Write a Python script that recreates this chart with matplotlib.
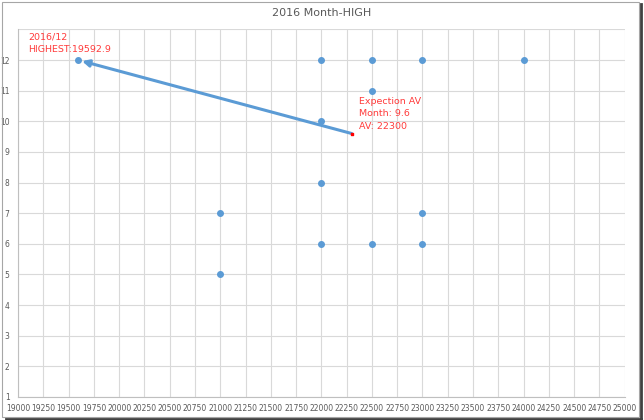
import matplotlib
matplotlib.use("Agg")
import matplotlib.pyplot as plt
from matplotlib.patches import Rectangle

price = [19592.9, 22000, 22500, 23000, 24000, 22500, 22000, 22000, 21000, 23000, 22000, 22500, 23000, 21000]
month = [12, 12, 12, 12, 12, 11, 10, 8, 7, 7, 6, 6, 6, 5]
exp_price = 22300
exp_month = 9.6
xticks = list(range(19000, 25001, 250))
yticks = list(range(1, 13))

fig = plt.figure(figsize=(6.44, 4.2), dpi=100)
ax = fig.add_axes([0.028, 0.055, 0.942, 0.875])
ax.scatter(price, month, s=16, color='#5b9bd5', zorder=3)
ax.scatter([exp_price], [exp_month], s=4, marker='s', color='#ff0000', zorder=4)
ax.annotate('', xy=(price[0], month[0]), xytext=(exp_price, exp_month),
            arrowprops=dict(arrowstyle='-|>', color='#5b9bd5', lw=2.2, mutation_scale=10,
                            shrinkA=0, shrinkB=3), zorder=2)
ax.set_xlim(19000, 25000)
ax.set_ylim(1, 13)
ax.set_xticks(xticks)
ax.set_yticks(yticks + [13])
ax.set_yticklabels([str(v) for v in yticks] + [''])
ax.set_xticklabels([str(v) for v in xticks], fontsize=5.5, color='#595959')
ax.tick_params(axis='y', labelsize=5.5, labelcolor='#595959', length=0, pad=6)
ax.tick_params(axis='x', length=0, pad=5)
ax.grid(True, color='#d9d9d9', lw=0.8)
ax.set_axisbelow(True)
for s in ['top', 'right']:
    ax.spines[s].set_visible(False)
ax.spines['left'].set_color('#bfbfbf')
ax.spines['bottom'].set_color('#bfbfbf')
ax.text(19100, 12.55, '2016/12\nHIGHEST:19592.9', color='#ff3b3b', fontsize=6.8,
        va='center', ha='left', linespacing=1.5)
ax.text(22370, 10.8, 'Expection AV\nMonth: 9.6\nAV: 22300', color='#ff3b3b', fontsize=6.8,
        va='top', ha='left', linespacing=1.5)
fig.text(0.5, 0.968, '2016 Month-HIGH', ha='center', va='center', fontsize=8, color='#595959')
# frame with shadow
fig.add_artist(Rectangle((0.003, 0.006), 0.99, 0.99, transform=fig.transFigure,
                         fill=False, edgecolor='#a6a6a6', lw=0.8))
fig.add_artist(plt.Line2D([0.995, 0.995], [0.0, 0.99], transform=fig.transFigure, color='#404040', lw=2))
fig.add_artist(plt.Line2D([0.01, 0.995], [0.003, 0.003], transform=fig.transFigure, color='#404040', lw=2))
fig.savefig('out.png', dpi=100)
